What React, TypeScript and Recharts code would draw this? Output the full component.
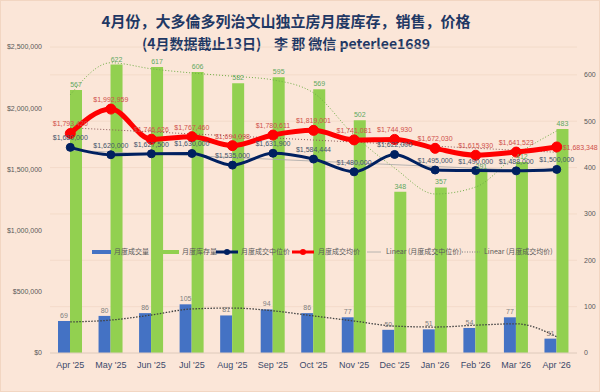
import React from 'react';
import { ComposedChart, Bar, Line, XAxis, YAxis, CartesianGrid, LabelList } from 'recharts';

const months = ["Apr '25", "May '25", "Jun '25", "Jul '25", "Aug '25", "Sep '25", "Oct '25", "Nov '25", "Dec '25", "Jan '26", "Feb '26", "Mar '26", "Apr '26"];
const sales = [69, 80, 86, 105, 81, 94, 86, 77, 50, 51, 54, 77, 31];
const inventory = [567, 622, 617, 606, 582, 595, 569, 502, 348, 357, 391, 412, 483];
const medianPrice = [1680000, 1620000, 1627500, 1630000, 1535000, 1631900, 1584444, 1480000, 1622000, 1495000, 1490000, 1488000, 1500000];
const avgPrice = [1793420, 1992959, 1746626, 1767460, 1694098, 1780611, 1819001, 1741081, 1744930, 1672030, 1615930, 1641523, 1683348];
// trendlines
const inventoryTrend = [557, 626, 613, 604, 597, 589, 561, 470, 399, 343, 358, 427, 479];
const salesTrend = [67, 71, 82, 95, 97, 91, 80, 69, 58, 56, 60, 63, 35];
const medianTrend = [1656000, null, null, null, null, null, null, null, null, null, null, null, 1480000];
const avgTrend = [1840000, null, null, null, null, null, null, null, null, null, null, null, 1640000];

const leftTicks = [0, 500000, 1000000, 1500000, 2000000, 2500000];
const rightTicks = [0, 100, 200, 300, 400, 500, 600];

const data = months.map((m, i) => ({
  month: m,
  sales: sales[i],
  inventory: inventory[i],
  median: medianPrice[i],
  avg: avgPrice[i],
  invTrend: inventoryTrend[i],
  salesTrend: salesTrend[i],
  medTrend: medianTrend[i],
  avgTrend: avgTrend[i],
}));

const money = (v: number) => '$' + Number(v).toLocaleString('en-US');
const BG = '#FBE6D8';
const labelFont = 'Liberation Sans, Arial, sans-serif';

const RedLabel = (props: any) => {
  const { x, y, value, index } = props;
  const last = index === months.length - 1;
  return (
    <text
      x={last ? x + 6 : x}
      y={last ? y + 1 : y - 7}
      textAnchor={last ? 'start' : 'middle'}
      dominantBaseline={last ? 'middle' : 'auto'}
      fontSize={7}
      fontFamily={labelFont}
      fill="#D0504A"
    >
      {money(value)}
    </text>
  );
};

const legendItems = [
  { x: 91, w: 19, type: 'thick', color: '#4472C4', text: '月度成交量', tx: 113 },
  { x: 162, w: 16, type: 'thick', color: '#92D050', text: '月度库存量', tx: 181 },
  { x: 215, w: 22, type: 'dot', color: '#002060', text: '月度成交中位价', tx: 240 },
  { x: 291, w: 22, type: 'dot', color: '#FF0000', text: '月度成交均价', tx: 317 },
  { x: 366, w: 14, type: 'thin', color: '#A6A6A6', text: 'Linear (月度成交中位价)', tx: 385 },
  { x: 461, w: 18, type: 'dotted', color: '#7F7F7F', text: 'Linear (月度成交均价)', tx: 483 },
];

const Legend = () => (
  <svg width={600} height={14} style={{ position: 'absolute', left: 0, top: 244 }}>
    {legendItems.map((it, i) => (
      <g key={i}>
        {it.type === 'thick' && <line x1={it.x} x2={it.x + it.w} y1={7} y2={7} stroke={it.color} strokeWidth={4} />}
        {it.type === 'dot' && (
          <g>
            <line x1={it.x} x2={it.x + it.w} y1={7} y2={7} stroke={it.color} strokeWidth={3} />
            <circle cx={it.x + it.w / 2} cy={7} r={3} fill={it.color} />
          </g>
        )}
        {it.type === 'thin' && <line x1={it.x} x2={it.x + it.w} y1={7} y2={7} stroke={it.color} strokeWidth={0.8} />}
        {it.type === 'dotted' && <line x1={it.x} x2={it.x + it.w} y1={7} y2={7} stroke={it.color} strokeWidth={1} strokeDasharray="1 1.5" />}
        <text x={it.tx} y={7} dominantBaseline="middle" fontSize={7} fill="#595959" fontFamily="Noto Sans CJK SC, sans-serif">
          {it.text}
        </text>
      </g>
    ))}
  </svg>
);

export default function App() {
  return (
    <div
      style={{
        position: 'absolute',
        left: 0,
        top: 0,
        width: 600,
        height: 392,
        background: BG,
        boxSizing: 'border-box',
        border: '1px solid #F2D6C2',
        fontFamily: labelFont,
      }}
    >
      <div
        style={{
          position: 'absolute',
          left: 0,
          top: 8,
          width: 570,
          textAlign: 'center',
          fontFamily: 'Noto Sans CJK SC, sans-serif',
          fontWeight: 700,
          fontSize: 15,
          lineHeight: '23px',
          color: '#1F3864',
        }}
      >
        <div>4月份，大多倫多列治文山独立房月度库存，销售，价格</div>
        <div style={{ fontSize: 14 }}>(4月数据截止13日)&nbsp;&nbsp;&nbsp; 李 郡 微信 peterlee1689</div>
      </div>
      <div style={{ position: 'absolute', left: -1, top: -1 }}>
        <ComposedChart
          width={600}
          height={392}
          data={data}
          margin={{ top: 47, right: 0, left: 0, bottom: 0 }}
          barGap={0}
        >
          <CartesianGrid yAxisId="right" vertical={false} stroke="#F1D8C6" strokeWidth={0.8} />
          <XAxis
            dataKey="month"
            height={39}
            tickSize={0}
            tickMargin={9}
            axisLine={{ stroke: '#E2CFC2' }}
            tick={{ fontSize: 9, fill: '#3B4A6B', fontFamily: labelFont }}
            interval={0}
          />
          <YAxis
            yAxisId="left"
            width={50}
            domain={[0, 2500000]}
            ticks={leftTicks}
            tickFormatter={money}
            tickSize={0}
            tickMargin={8}
            axisLine={false}
            tick={{ fontSize: 7, fill: '#595959', fontFamily: labelFont }}
            allowDataOverflow
          />
          <YAxis
            yAxisId="right"
            orientation="right"
            width={23}
            domain={[0, 660]}
            ticks={rightTicks}
            tickSize={0}
            tickMargin={7}
            axisLine={false}
            tick={{ fontSize: 7, fill: '#595959', fontFamily: labelFont, textAnchor: 'start' }}
            allowDataOverflow
          />
          <Bar yAxisId="right" dataKey="sales" fill="#4472C4" barSize={12} isAnimationActive={false}>
            <LabelList dataKey="sales" position="top" offset={3} fontSize={7} fill="#7F7F7F" fontFamily={labelFont} />
          </Bar>
          <Bar yAxisId="right" dataKey="inventory" fill="#92D050" barSize={12} isAnimationActive={false}>
            <LabelList dataKey="inventory" position="top" offset={3} fontSize={7} fill="#5FA85F" fontFamily={labelFont} />
          </Bar>
          <Line
            yAxisId="right"
            dataKey="invTrend"
            type="monotone"
            stroke="#70AD47"
            strokeWidth={1}
            strokeDasharray="1 2"
            dot={false}
            activeDot={false}
            isAnimationActive={false}
          />
          <Line
            yAxisId="right"
            dataKey="salesTrend"
            type="monotone"
            stroke="#404040"
            strokeWidth={1.3}
            strokeDasharray="1.5 1.5"
            dot={false}
            activeDot={false}
            isAnimationActive={false}
          />
          <Line
            yAxisId="left"
            dataKey="medTrend"
            type="linear"
            connectNulls
            stroke="#A6A6A6"
            strokeWidth={0.8}
            dot={false}
            activeDot={false}
            isAnimationActive={false}
          />
          <Line
            yAxisId="left"
            dataKey="avgTrend"
            type="linear"
            connectNulls
            stroke="#8C5A5A"
            strokeWidth={1}
            strokeDasharray="1 2"
            dot={false}
            activeDot={false}
            isAnimationActive={false}
          />
          <Line
            yAxisId="left"
            dataKey="median"
            type="monotone"
            stroke="#002060"
            strokeWidth={3}
            dot={{ r: 4, fill: '#002060', stroke: '#002060', strokeWidth: 1 }}
            activeDot={false}
            isAnimationActive={false}
          >
            <LabelList dataKey="median" position="top" offset={7} formatter={(v: any) => money(v)} fontSize={7} fill="#44546A" fontFamily={labelFont} />
          </Line>
          <Line
            yAxisId="left"
            dataKey="avg"
            type="monotone"
            stroke="#FF0000"
            strokeWidth={5}
            dot={{ r: 5, fill: '#FF0000', stroke: '#FF0000', strokeWidth: 1 }}
            activeDot={false}
            isAnimationActive={false}
          >
            <LabelList dataKey="avg" content={RedLabel} />
          </Line>
        </ComposedChart>
      </div>
      <Legend />
    </div>
  );
}
